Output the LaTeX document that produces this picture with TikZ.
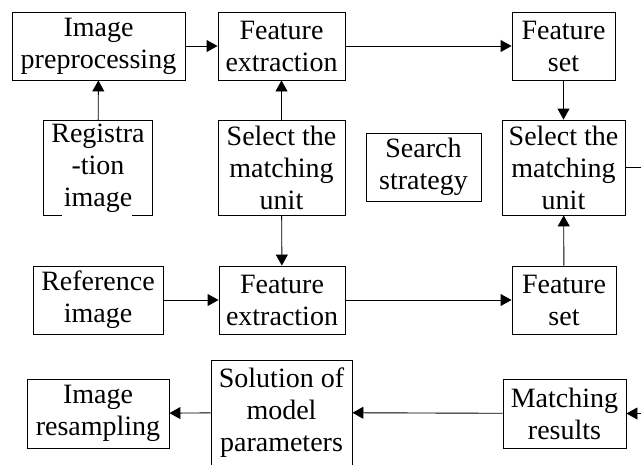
\documentclass[tikz,border=0pt]{standalone}
\usepackage{fontspec}
\setmainfont{Liberation Serif}
\usetikzlibrary{arrows.meta}
\begin{document}
\begin{tikzpicture}[x=1pt,y=-1pt,line width=0.9pt,
  >={Triangle[length=11pt,width=12pt]},
  box/.style={draw,align=center,inner sep=0pt,font=\fontsize{28}{32}\selectfont},
  txt/.style={align=center,inner sep=0pt,font=\fontsize{28}{32}\selectfont}]
\useasboundingbox (0,0) rectangle (641,464);
\node[box,minimum width=173pt,minimum height=68pt] (v0) at (98.5,46) {Image\\preprocessing};
\node[box,minimum width=127pt,minimum height=68pt] (v1) at (281.5,46) {Feature\\extraction};
\node[box,minimum width=103pt,minimum height=68pt] (v2) at (563.5,46) {Feature\\set};
\node[txt,minimum width=108pt,minimum height=94pt] (v3) at (98,168) {Registra\\-tion\\image};
\node[box,minimum width=127pt,minimum height=95pt] (v4) at (281.5,167.5) {Select the\\matching\\unit};
\node[box,minimum width=115pt,minimum height=68pt] (v5) at (423.5,167) {Search\\strategy};
\node[box,minimum width=123pt,minimum height=95pt] (v6) at (563.5,167.5) {Select the\\matching\\unit};
\node[box,minimum width=130pt,minimum height=68pt] (v7) at (98,300) {Reference\\image};
\node[box,minimum width=126pt,minimum height=68pt] (v8) at (282,300) {Feature\\extraction};
\node[box,minimum width=104pt,minimum height=68pt] (v9) at (564,300) {Feature\\set};
\node[box,minimum width=142pt,minimum height=69pt] (v10) at (98,413.5) {Image\\resampling};
\node[box,minimum width=141pt,minimum height=105pt] (v11) at (281.5,412.5) {Solution of\\model\\parameters};
\node[box,minimum width=123pt,minimum height=69pt] (v12) at (564.5,413.5) {Matching\\results};
\coordinate (c0) at (660,167.5);
\coordinate (c1) at (660,413.5);
\draw ([xshift=18pt]v3.south west) -- (v3.south west) -- (v3.north west) -- (v3.north east) -- (v3.south east) -- ++(-20pt,0);
\draw [->] (v0) edge (v1);
\draw [->] (v1) edge (v2);
\draw [->] (v3) edge (v0);
\draw [->] (v4) edge (v1);
\draw [->] (v4) edge (v8);
\draw [->] (v2) edge (v6);
\draw [->] (v9) edge (v6);
\draw [->] (v7) edge (v8);
\draw [->] (v8) edge (v9);
\draw (v6) -- (c0);
\draw [->] (c1) edge (v12);
\draw [->] (v12) edge (v11);
\draw [->] (v11) edge (v10);
\end{tikzpicture}
\end{document}
